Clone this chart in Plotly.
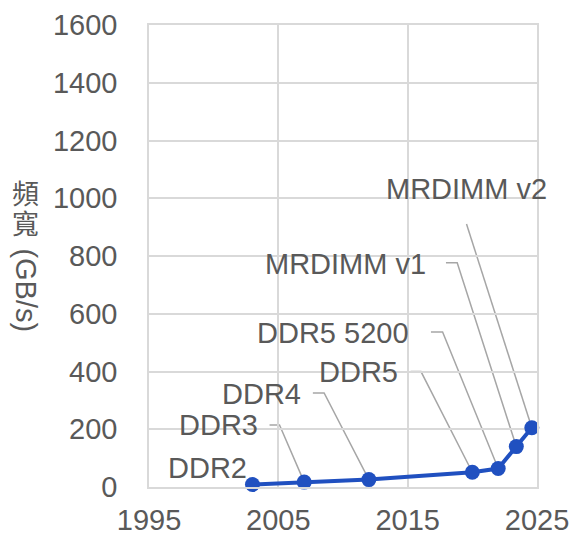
import plotly.graph_objects as go

# ---- data ----
names = ["DDR2", "DDR3", "DDR4", "DDR5", "DDR5 5200", "MRDIMM v1", "MRDIMM v2"]
years = [2003, 2007, 2012, 2020, 2022, 2023.4, 2024.6]
bandwidth = [8.5, 17, 25.6, 51.2, 64, 140, 205]
x_ticks = [1995, 2005, 2015, 2025]
y_ticks = [0, 200, 400, 600, 800, 1000, 1200, 1400, 1600]

# ---- label layout (data coordinates): text anchor x, text y, leader start x, elbow x, leader y ----
label_text_x = [2002.70, 2003.55, 2006.94, 2014.41, 2015.23, 2016.59, 2019.55]
label_text_y = [66.9, 213.6, 323.5, 397.4, 535, 772, 1031]
leader_start_x = [None, 2004.32, 2007.67, 2015.23, 2016.80, 2017.96, 2019.55]
leader_elbow_x = [None, 2005.09, 2008.54, 2016.03, 2017.70, 2018.83, 2019.55]
leader_y = [None, 214.6, 325.6, 399.8, 537, 776.4, 910.6]
label_anchor = ["right", "right", "right", "right", "right", "right", "center"]

GREY = "#595959"
FONT = "Liberation Sans, Arial, Noto Sans CJK TC, sans-serif"

fig = go.Figure()
fig.add_trace(go.Scatter(
    x=years, y=bandwidth, mode="lines+markers",
    line=dict(color="#2050C0", width=4),
    marker=dict(color="#2050C0", size=15),
    cliponaxis=False,
    hoverinfo="skip", showlegend=False,
))

shapes = []
annotations = []
for i, name in enumerate(names):
    annotations.append(dict(
        x=label_text_x[i], y=label_text_y[i], xref="x", yref="y",
        text=name, showarrow=False, xanchor=label_anchor[i], yanchor="middle",
        font=dict(size=29, color=GREY, family=FONT),
    ))
    if leader_start_x[i] is not None:
        path = (f"M {leader_start_x[i]},{leader_y[i]} L {leader_elbow_x[i]},{leader_y[i]} "
                f"L {years[i]},{bandwidth[i]}")
        shapes.append(dict(type="path", path=path, xref="x", yref="y",
                           line=dict(color="#A6A6A6", width=1.5), layer="below"))

# Y axis title: CJK upright, Latin rotated
L, R, T, B = 148.5, 35.7, 25.2, 47.4
W, H = 573, 534
pw, ph = W - L - R, H - T - B
def px_to_paper(xp, yp):
    return (xp - L) / pw, (H - B - yp) / ph
for ch, yp in [("頻", 192), ("寬", 222)]:
    xpp, ypp = px_to_paper(25, yp)
    annotations.append(dict(x=xpp, y=ypp, xref="paper", yref="paper", text=ch,
                            showarrow=False, xanchor="center", yanchor="middle",
                            font=dict(size=27, color=GREY, family="Noto Sans CJK TC")))
xpp, ypp = px_to_paper(25, 290)
annotations.append(dict(x=xpp, y=ypp, xref="paper", yref="paper", text="(GB/s)",
                        showarrow=False, textangle=90, xanchor="center", yanchor="middle",
                        font=dict(size=29, color=GREY, family=FONT)))

fig.update_layout(
    width=W, height=H,
    margin=dict(l=L, r=R, t=T, b=B, pad=0, autoexpand=False),
    paper_bgcolor="white", plot_bgcolor="white",
    shapes=shapes, annotations=annotations,
    font=dict(family=FONT, color=GREY, size=28),
    xaxis=dict(range=[1995, 2025], tickvals=x_ticks, ticktext=[str(t) for t in x_ticks],
               showgrid=True, gridcolor="#D9D9D9", gridwidth=1.5,
               showline=True, linecolor="#D9D9D9", linewidth=1.5, mirror=True,
               zeroline=False, ticks="outside", ticklen=6, tickcolor="rgba(0,0,0,0)",
               automargin=False,
               tickfont=dict(size=29, color=GREY, family=FONT)),
    yaxis=dict(range=[0, 1600], tickvals=y_ticks,
               showgrid=True, gridcolor="#D9D9D9", gridwidth=1.5,
               showline=True, linecolor="#D9D9D9", linewidth=1.5, mirror=True,
               zeroline=False, ticks="outside", ticklen=24, tickcolor="rgba(0,0,0,0)",
               automargin=False,
               tickfont=dict(size=29, color=GREY, family=FONT)),
)
fig.write_html("out.html",
               config={"displayModeBar": False},
               post_script="document.body.style.margin='0';document.body.style.padding='0';")
